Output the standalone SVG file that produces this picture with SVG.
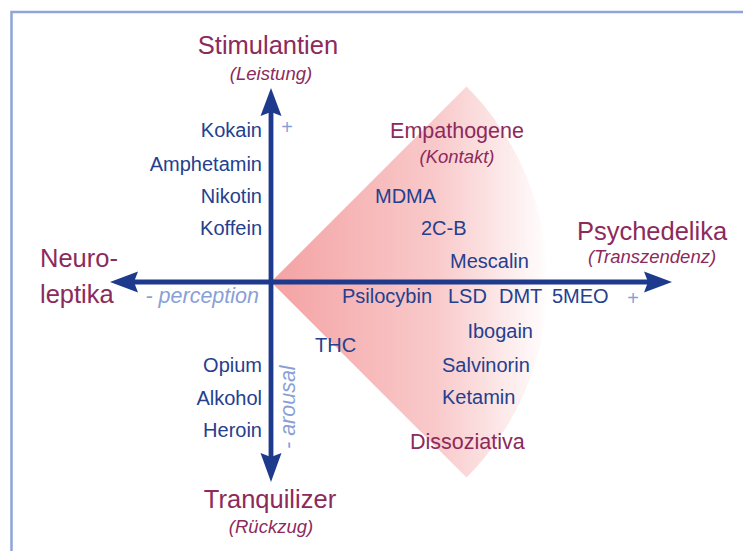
<svg xmlns="http://www.w3.org/2000/svg" width="743" height="551" viewBox="0 0 743 551">
<defs>
<linearGradient id="pink" gradientUnits="userSpaceOnUse" x1="270" y1="0" x2="550" y2="0">
<stop offset="0" stop-color="#f4a2a3"/>
<stop offset="0.6" stop-color="#f9cacb"/>
<stop offset="1" stop-color="#ffffff"/>
</linearGradient>
<style>
text{font-family:"Liberation Sans",Arial,sans-serif}
.cat{fill:#8c2a5c;font-size:25.5px}
.cat2{fill:#8c2a5c;font-size:21.5px}
.sub{fill:#8c2a5c;font-size:18.5px;font-style:italic}
.drug{fill:#24408e;font-size:20px}
.lt{fill:#8a9fd6;font-size:21.5px;font-style:italic}
.plus{fill:#8a9fd6;font-size:20px}
.ax{stroke:#1e3a8c;stroke-width:4.8;fill:none}
.ah{fill:#1e3a8c}
</style>
</defs>
<rect x="11.5" y="12" width="800" height="600" fill="#ffffff" stroke="#8fa5d8" stroke-width="2.5"/>
<g id="sector">
<path d="M271,282 L466.5,86.5 A276.5,276.5 0 0 1 466.5,477.5 Z" fill="url(#pink)"/>
</g>
<g id="connectors">
<line class="ax" x1="271" y1="110" x2="271" y2="458"/>
<line class="ax" x1="134" y1="282" x2="650" y2="282"/>
<path class="ah" d="M271,88 L281.5,116 L271,112 L260.5,116 Z"/>
<path class="ah" d="M271,482 L281.5,453 L271,457 L260.5,453 Z"/>
<path class="ah" d="M110,282 L138,271.5 L134,282 L138,292.5 Z"/>
<path class="ah" d="M672,282 L644,271.5 L648,282 L644,292.5 Z"/>
</g>
<g id="stimulantien">
<text class="cat" x="268" y="54" text-anchor="middle">Stimulantien</text>
<text class="sub" x="271" y="80" text-anchor="middle">(Leistung)</text>
</g>
<g id="stimulant-drugs">
<text class="drug" x="262" y="137" text-anchor="end">Kokain</text>
<text class="drug" x="262" y="171" text-anchor="end">Amphetamin</text>
<text class="drug" x="262" y="203" text-anchor="end">Nikotin</text>
<text class="drug" x="262" y="235" text-anchor="end">Koffein</text>
<text class="plus" x="287" y="134" text-anchor="middle">+</text>
</g>
<g id="empathogene">
<text class="cat2" x="457" y="138" text-anchor="middle">Empathogene</text>
<text class="sub" x="457" y="163" text-anchor="middle">(Kontakt)</text>
<text class="drug" x="375" y="203">MDMA</text>
<text class="drug" x="421" y="235">2C-B</text>
<text class="drug" x="450" y="268">Mescalin</text>
</g>
<g id="psychedelika">
<text class="cat" x="652" y="240" text-anchor="middle">Psychedelika</text>
<text class="sub" x="652" y="263" text-anchor="middle">(Transzendenz)</text>
<text class="drug" x="342" y="303">Psilocybin</text>
<text class="drug" x="448" y="303">LSD</text>
<text class="drug" x="499" y="303">DMT</text>
<text class="drug" x="552" y="303">5MEO</text>
<text class="plus" x="633" y="305" text-anchor="middle">+</text>
</g>
<g id="neuroleptika">
<text class="cat" x="40" y="267">Neuro-</text>
<text class="cat" x="40" y="303">leptika</text>
<text class="lt" x="259" y="303" text-anchor="end">- perception</text>
</g>
<g id="dissoziativa">
<text class="drug" x="533" y="338" text-anchor="end">Ibogain</text>
<text class="drug" x="442" y="372">Salvinorin</text>
<text class="drug" x="442" y="404">Ketamin</text>
<text class="cat2" x="410" y="449">Dissoziativa</text>
<text class="drug" x="315" y="352">THC</text>
</g>
<g id="tranquilizer-drugs">
<text class="drug" x="262" y="372" text-anchor="end">Opium</text>
<text class="drug" x="262" y="405" text-anchor="end">Alkohol</text>
<text class="drug" x="262" y="437" text-anchor="end">Heroin</text>
<text class="lt" transform="translate(295,449) rotate(-90)">- arousal</text>
</g>
<g id="tranquilizer">
<text class="cat" x="270" y="508" text-anchor="middle">Tranquilizer</text>
<text class="sub" x="271" y="533" text-anchor="middle">(Rückzug)</text>
</g>
</svg>
